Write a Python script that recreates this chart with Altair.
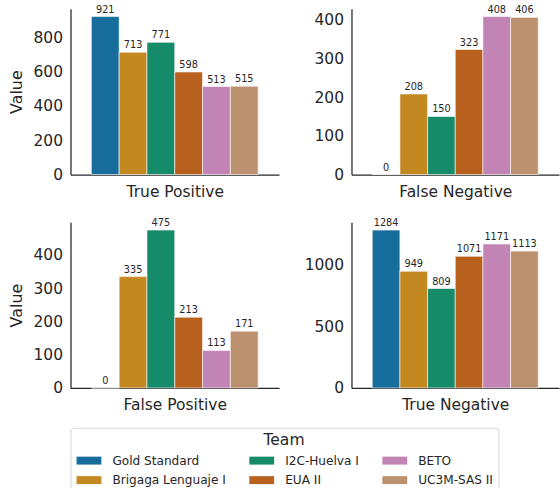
import altair as alt
import pandas as pd

teams = ["Gold Standard", "Brigaga Lenguaje I", "I2C-Huelva I", "EUA II", "BETO", "UC3M-SAS II"]
colors = ["#176d9c", "#c38820", "#158b6a", "#b8601d", "#c283b5", "#bc916f"]
legend_order = ["Gold Standard", "I2C-Huelva I", "BETO", "Brigaga Lenguaje I", "EUA II", "UC3M-SAS II"]

metrics = ["True Positive", "False Negative", "False Positive", "True Negative"]
true_positive = [921, 713, 771, 598, 513, 515]
false_negative = [0, 208, 150, 323, 408, 406]
false_positive = [0, 335, 475, 213, 113, 171]
true_negative = [1284, 949, 809, 1071, 1171, 1113]
y_ticks = [[0, 200, 400, 600, 800], [0, 100, 200, 300, 400], [0, 100, 200, 300, 400], [0, 500, 1000]]

FONT = "DejaVu Sans"
TXT = "#262626"
color_scale = alt.Scale(domain=legend_order, range=[colors[teams.index(t)] for t in legend_order])
legend = alt.Legend(
    orient="none", legendX=0, legendY=422, direction="horizontal", columns=3,
    title="Team", titleFontSize=15.7, titleFontWeight="normal", titleAnchor="middle",
    titleColor=TXT, titlePadding=6, titleFont=FONT, labelFont=FONT,
    labelFontSize=12.2, labelColor=TXT,
    symbolType="M-1,-0.8H4V0.8H-1Z", symbolSize=100, symbolStrokeWidth=0, symbolOpacity=1,
    labelOffset=25, columnPadding=22, rowPadding=7, padding=5,
    strokeColor="#d6d6d6", fillColor="white", cornerRadius=3, labelLimit=300,
)


def panel(metric, values, ticks, left, width):
    df = pd.DataFrame({"Team": teams, "Value": values})
    ymax = max(values) * 1.05
    yaxis = dict(values=ticks, format="d", labelPadding=8, ticks=False, grid=False, domain=True,
                 labelFont=FONT, labelFontSize=15.6, labelColor=TXT, domainColor=TXT, domainWidth=1.25)
    if left:
        yaxis.update(title="Value", titleFont=FONT, titleFontSize=16, titleFontWeight="normal",
                     titleColor=TXT, titlePadding=8, minExtent=38, maxExtent=38)
    else:
        yaxis.update(title="", minExtent=71, maxExtent=71)
    x = alt.X("Team:N", sort=teams, scale=alt.Scale(paddingInner=0, paddingOuter=0.75),
              axis=alt.Axis(title=metric, labels=False, ticks=False, titlePadding=10,
                            titleFont=FONT, titleFontSize=15.6, titleFontWeight="normal",
                            titleColor=TXT, domainColor=TXT, domainWidth=1.25, grid=False))
    y = alt.Y("Value:Q", scale=alt.Scale(domain=[0, ymax], nice=False, zero=True), axis=alt.Axis(**yaxis))
    base = alt.Chart(df).encode(x=x, y=y)
    bars = base.mark_bar(stroke="white", strokeWidth=1, strokeOpacity=0.6).encode(
        color=alt.Color("Team:N", scale=color_scale, legend=legend))
    text = base.mark_text(baseline="bottom", dy=-2, font=FONT, fontSize=9.8, color=TXT).encode(text="Value:Q")
    return alt.layer(bars, text).properties(width=width, height=167)


row1 = alt.hconcat(panel(metrics[0], true_positive, y_ticks[0], True, 210),
                   panel(metrics[1], false_negative, y_ticks[1], False, 209), spacing=0)
row2 = alt.hconcat(panel(metrics[2], false_positive, y_ticks[2], True, 210),
                   panel(metrics[3], true_negative, y_ticks[3], False, 209), spacing=0)
chart = alt.vconcat(row1, row2, spacing=16).properties(
    padding={"left": 8, "top": 2, "right": 0, "bottom": 0}
).configure(font=FONT).configure_view(stroke="transparent")

chart.save("out.html", embed_options={"renderer": "svg", "actions": False})
